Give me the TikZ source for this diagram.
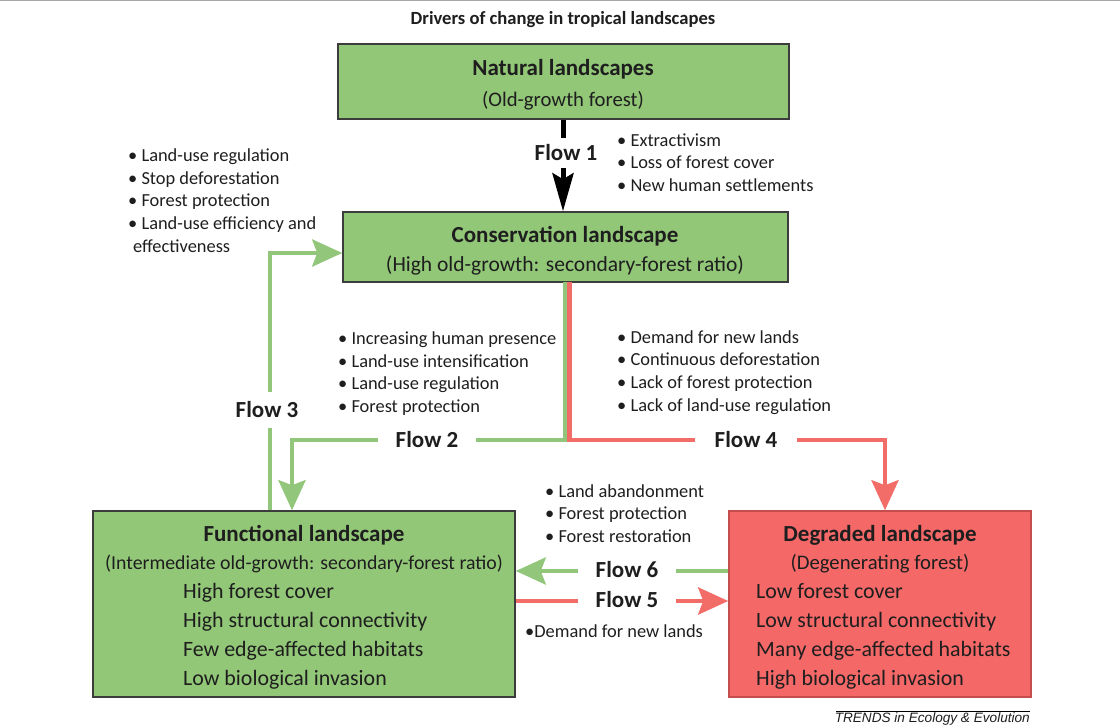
\documentclass[tikz,border=0pt]{standalone}
\usepackage{fontspec}
\setmainfont{Carlito}
\newfontfamily\arialf{Liberation Sans}
\usetikzlibrary{arrows.meta}
\definecolor{boxgreen}{RGB}{146,199,120}
\definecolor{linegreen}{RGB}{146,198,122}
\definecolor{boxred}{RGB}{244,104,104}
\definecolor{linered}{RGB}{242,108,104}
\definecolor{redborder}{RGB}{196,78,78}
\definecolor{txtcol}{RGB}{30,30,30}
\definecolor{boxborder}{RGB}{60,60,60}
\tikzset{
  gbox/.style={draw=boxborder, fill=boxgreen, line width=1.5pt, inner sep=0pt},
  rbox/.style={draw=redborder, fill=boxred, line width=1.5pt, inner sep=0pt},
  garrow/.style={draw=linegreen, line width=4.5pt, -{Stealth[length=30pt,width=27pt,inset=5pt]}},
  rarrow/.style={draw=linered, line width=4.5pt, -{Stealth[length=30pt,width=27pt,inset=5pt]}},
  barrow/.style={draw=black, line width=5pt, -{Stealth[length=38pt,width=21pt,inset=6pt]}},
  flowlab/.style={font=\bfseries\fontsize{23}{27}\selectfont, text=txtcol, fill=white, inner xsep=18pt, inner ysep=5pt},
  lst/.style={font=\fontsize{18.4}{22.7}\selectfont, text=txtcol, align=left, anchor=west, inner sep=0pt},
  boxttl/.style={font=\bfseries\fontsize{23}{27}\selectfont, text=txtcol, inner sep=0pt},
  boxsub/.style={font=\fontsize{20.7}{24}\selectfont, text=txtcol, inner sep=0pt},
  boxlst/.style={font=\fontsize{21.9}{29}\selectfont, text=txtcol, align=left, anchor=west, inner sep=0pt}
}
\begin{document}
\begin{tikzpicture}[x=1pt,y=-1pt]
\path[use as bounding box] (0,0) rectangle (1120,725);
\draw[gray!70, line width=1pt] (0,0.5) -- (1120,0.5);

\node[font=\bfseries\fontsize{18.6}{22}\selectfont, text=txtcol] (title) at (563,20) {Drivers of change in tropical landscapes};

% boxes
\node[gbox, minimum width=451pt, minimum height=75pt] (nat) at (563.5,81.5) {};
\node[gbox, minimum width=445pt, minimum height=70pt] (cons) at (565.5,247) {};
\node[gbox, minimum width=422pt, minimum height=186pt] (func) at (304,604) {};
\node[rbox, minimum width=302pt, minimum height=186pt] (deg) at (880,604) {};

% coordinates for bends
\coordinate (g2s) at (565,282);
\coordinate (g2) at (292,440);
\coordinate (r4s) at (569.5,282);
\coordinate (r4) at (885,440);
\coordinate (c3) at (270,253);
\coordinate (f6) at (627,571);
\coordinate (f5) at (627,601);
\coordinate (f1) at (563,0);

% connectors
\draw[barrow] (nat.south -| f1) -- (cons.north -| f1);
\draw[garrow] (g2s) |- (g2) -- (g2 |- func.north);
\draw[rarrow] (r4s) |- (r4) -- (r4 |- deg.north);
\draw[garrow] (func.north -| c3) -- (c3) -- (c3 -| cons.west);
\draw[garrow] (f6 -| deg.west) -- (f6 -| func.east);
\draw[rarrow] (f5 -| func.east) -- (f5 -| deg.west);

% flow labels
\node[flowlab, inner ysep=7pt, inner xsep=3pt] (fl1) at (566,153) {Flow 1};
\node[flowlab] (fl2) at (427,440) {Flow 2};
\node[flowlab, inner xsep=3pt, inner ysep=10pt] (fl3) at (267,410) {Flow 3};
\node[flowlab, inner xsep=20pt] (fl4) at (746,440) {Flow 4};
\node[flowlab, inner ysep=2pt] (fl6) at (627,570) {Flow 6};
\node[flowlab, inner ysep=2pt] (fl5) at (627,600) {Flow 5};

% box texts
\node[boxttl] (natt) at (563,69) {Natural landscapes};
\node[boxsub] (nats) at (563,101) {(Old-growth forest)};
\node[boxttl] (const) at (565,236) {Conservation landscape};
\node[boxsub, font=\fontsize{21.5}{24}\selectfont] (conss) at (565,265) {(High old-growth: secondary-forest ratio)};
\node[boxttl] (funct) at (304,535) {Functional landscape};
\node[boxsub, font=\fontsize{19.8}{24}\selectfont] (funcs) at (304,564) {(Intermediate old-growth: secondary-forest ratio)};
\node[boxlst] (funcl) at (183,636.5) {High forest cover\\High structural connectivity\\Few edge-affected habitats\\Low biological invasion};
\node[boxttl] (degt) at (880,535) {Degraded landscape};
\node[boxsub] (degs) at (880,564) {(Degenerating forest)};
\node[boxlst] (degl) at (756,636.5) {Low forest cover\\Low structural connectivity\\Many edge-affected habitats\\High biological invasion};

% driver lists
\node[lst] (l3) at (128,200.5) {• Land-use regulation\\• Stop deforestation\\• Forest protection\\• Land-use efficiency and\\\hspace*{5pt}effectiveness};
\node[lst] (l1) at (617,162.5) {• Extractivism\\• Loss of forest cover\\• New human settlements};
\node[lst] (l2) at (338,373.5) {• Increasing human presence\\• Land-use intensification\\• Land-use regulation\\• Forest protection};
\node[lst] (l4) at (617,372.5) {• Demand for new lands\\• Continuous deforestation\\• Lack of forest protection\\• Lack of land-use regulation};
\node[lst] (l6) at (545,513.5) {• Land abandonment\\• Forest protection\\• Forest restoration};
\node[lst] (l5) at (525,631) {•Demand for new lands};

% footer
\draw[black, line width=0.8pt] (836,711) -- (1030,711);
\node[font=\arialf\itshape\fontsize{13.6}{15}\selectfont, text=txtcol, anchor=east, inner sep=0pt] (trends) at (1030,719) {TRENDS in Ecology \& Evolution};
\end{tikzpicture}
\end{document}
